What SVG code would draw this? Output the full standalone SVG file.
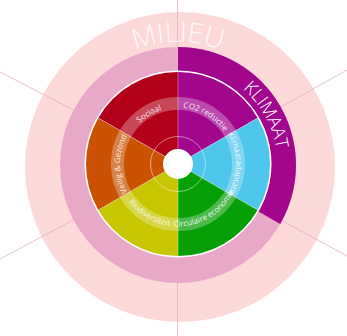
<svg xmlns="http://www.w3.org/2000/svg" width="347" height="336" viewBox="0 0 347 336">
<style>
.guide{stroke:#e3b2c1;stroke-width:1;fill:none;opacity:0.8}
.sep{stroke:#ffffff;stroke-opacity:0.45;stroke-width:0.8}
.lbl{font-family:"Open Sans","Liberation Sans",sans-serif;font-size:8px;fill:#ffffff;fill-opacity:0.9}
.big{font-family:"Open Sans","Liberation Sans",sans-serif;font-weight:300;fill:#ffffff}
</style>
<defs>
<path id="pMilieu" d="M 56 164 A 122 122 0 0 1 300 164"/>
<path id="pKlimaat" d="M 129.0 75.7 A 101 101 0 0 1 227.0 252.3"/>
<path id="pSociaal" d="M 127.8 193 A 58 58 0 0 1 228.2 135"/>
<path id="pCO2" d="M 127.8 135 A 58 58 0 0 1 228.2 193"/>
<path id="pKlimA" d="M 178 106 A 58 58 0 0 1 178 222"/>
<path id="pVeilig" d="M 178 222 A 58 58 0 0 1 178 106"/>
<path id="pCirc" d="M 122.6 196 A 64 64 0 0 0 233.4 132"/>
<path id="pBio" d="M 122.6 132 A 64 64 0 0 0 233.4 196"/>
</defs>
<rect width="347" height="336" fill="#ffffff"/>
<g id="milieu">
<circle cx="180" cy="167" r="155" fill="#fdd9da"/>
<circle cx="178" cy="165" r="118" fill="#e8a9c9"/>
</g>
<g id="connectors">
<line class="guide" x1="177.5" y1="0" x2="177.5" y2="336"/>
<line class="guide" x1="178" y1="164" x2="0" y2="72"/>
<line class="guide" x1="178" y1="164" x2="0" y2="259"/>
<line class="guide" x1="178" y1="164" x2="347" y2="70"/>
<line class="guide" x1="178" y1="164" x2="347" y2="256"/>
</g>
<g id="klimaat">
<path d="M 178 165 L 178 47 A 118 118 0 0 1 280.2 224 Z" fill="#a1068d"/>
</g>
<circle cx="178" cy="164" r="93.5" fill="#ffffff"/>
<g id="sociaal"><path d="M 178 164 L 98.33 118 A 92 92 0 0 1 178 72 Z" fill="#b3001a"/></g>
<g id="co2-reductie"><path d="M 178 164 L 178 72 A 92 92 0 0 1 257.67 118 Z" fill="#a1068d"/></g>
<g id="klimaatadaptatie"><path d="M 178 164 L 257.67 118 A 92 92 0 0 1 257.67 210 Z" fill="#4fc6eb"/></g>
<g id="circulaire-economie"><path d="M 178 164 L 257.67 210 A 92 92 0 0 1 178 256 Z" fill="#06a006"/></g>
<g id="biodiversiteit"><path d="M 178 164 L 178 256 A 92 92 0 0 1 98.33 210 Z" fill="#c8c600"/></g>
<g id="veilig-gezond"><path d="M 178 164 L 98.33 210 A 92 92 0 0 1 98.33 118 Z" fill="#cb5200"/></g>
<circle cx="178" cy="164" r="60.5" fill="none" stroke="#ffffff" stroke-opacity="0.28" stroke-width="13"/>
<g>
<line class="sep" x1="178" y1="164" x2="178" y2="72"/>
<line class="sep" x1="178" y1="164" x2="257.67" y2="118"/>
<line class="sep" x1="178" y1="164" x2="257.67" y2="210"/>
<line class="sep" x1="178" y1="164" x2="178" y2="256"/>
<line class="sep" x1="178" y1="164" x2="98.33" y2="210"/>
<line class="sep" x1="178" y1="164" x2="98.33" y2="118"/>
</g>
<circle cx="178" cy="164" r="27.5" fill="none" stroke="#ffffff" stroke-opacity="0.6" stroke-width="0.8"/>
<circle cx="178" cy="164" r="15" fill="#ffffff"/>
<text class="big" font-size="28" fill-opacity="0.85"><textPath href="#pMilieu" startOffset="50%" text-anchor="middle">MILIEU</textPath></text>
<text class="big" font-size="18" fill="#fbe6f4"><textPath href="#pKlimaat" startOffset="50%" text-anchor="middle">KLIMAAT</textPath></text>
<text class="lbl"><textPath href="#pSociaal" startOffset="50%" text-anchor="middle">Sociaal</textPath></text>
<text class="lbl"><textPath href="#pCO2" startOffset="50%" text-anchor="middle">CO2 reductie</textPath></text>
<text class="lbl"><textPath href="#pKlimA" startOffset="50%" text-anchor="middle">Klimaatadaptatie</textPath></text>
<text class="lbl"><textPath href="#pVeilig" startOffset="50%" text-anchor="middle">Veilig &amp; Gezond</textPath></text>
<text class="lbl"><textPath href="#pCirc" startOffset="50%" text-anchor="middle">Circulaire economie</textPath></text>
<text class="lbl"><textPath href="#pBio" startOffset="50%" text-anchor="middle">Biodiversiteit</textPath></text>
</svg>
